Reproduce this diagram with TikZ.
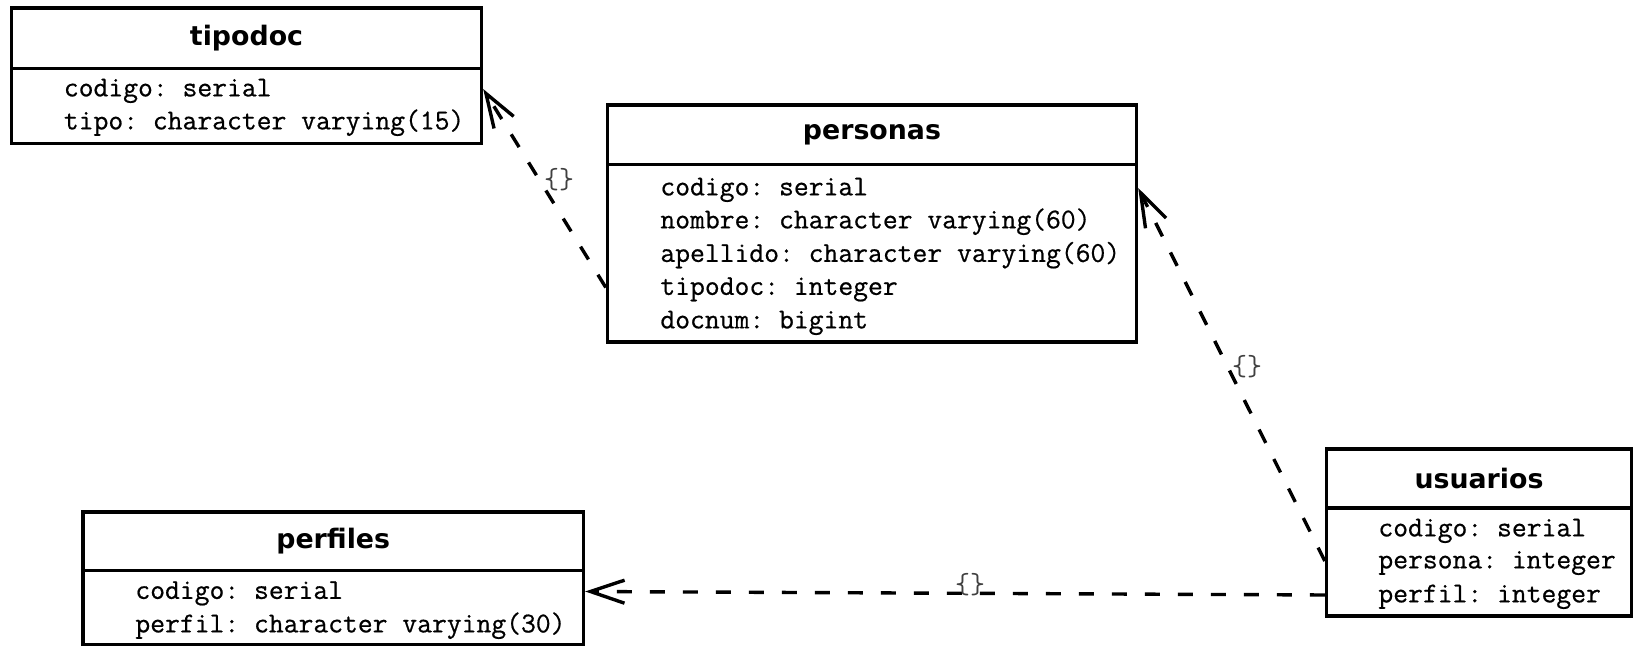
\documentclass[tikz,border=0pt]{standalone}
\usepackage{fontspec}
\newfontfamily\hdrfont{DejaVu Sans}
\setmonofont{Latin Modern Mono}[FakeBold=0.6]
\newfontfamily\lblfont{Latin Modern Mono}
\frenchspacing
\usetikzlibrary{arrows.meta,fit}
\begin{document}
\begin{tikzpicture}[x=0.5pt,y=-0.5pt,
  tbl/.style={draw=black, line width=1.7pt, inner sep=0pt, rectangle},
  ttl/.style={font=\hdrfont\bfseries\fontsize{13.4}{16}\selectfont, inner sep=0pt},
  field/.style={anchor=west, inner sep=0pt, font=\ttfamily\frenchspacing\fontsize{14.4}{17}\selectfont, text height=0.95em, text depth=0.21em},
  rel/.style={line width=1.7pt, dash pattern=on 7.5pt off 9pt, -{Straight Barb[length=17pt,width=11.5pt]}},
  lbl/.style={font=\lblfont\fontsize{14.5}{16}\selectfont, text=black!75, inner sep=0pt}]
\fill[white] (0,0) rectangle (1633,646);
\useasboundingbox (0,0) rectangle (1633,646);

% tipodoc
\node[tbl, fit={(11.5,8) (481.5,68.5)}] (tipodoc-h) {};
\node[tbl, fit={(11.5,68.5) (481.5,143.5)}] (tipodoc) {};
\node[ttl] (tipodoc-t) at (tipodoc-h.center) {tipodoc};
\node[field] (tipodoc-codigo) at (63.5,89) {codigo: serial};
\node[field] (tipodoc-tipo) at (63.5,122) {tipo: character varying(15)};

% personas
\node[tbl, fit={(607.5,105) (1136.5,164.5)}] (personas-h) {};
\node[tbl, fit={(607.5,164.5) (1136.5,342)}] (personas) {};
\node[ttl] (personas-t) at (personas-h.center) {personas};
\node[field] (personas-codigo) at (660,188) {codigo: serial};
\node[field] (personas-nombre) at (660,221) {nombre: character varying(60)};
\node[field] (personas-apellido) at (660,254.5) {apellido: character varying(60)};
\node[field] (personas-tipodoc) at (660,287.5) {tipodoc: integer};
\node[field] (personas-docnum) at (660,321) {docnum: bigint};

% usuarios
\node[tbl, fit={(1326.5,449) (1631.5,508)}] (usuarios-h) {};
\node[tbl, fit={(1326.5,508) (1631.5,616)}] (usuarios) {};
\node[ttl] (usuarios-t) at (usuarios-h.center) {usuarios};
\node[field] (usuarios-codigo) at (1378,529) {codigo: serial};
\node[field] (usuarios-persona) at (1378,561) {persona: integer};
\node[field] (usuarios-perfil) at (1378,595) {perfil: integer};

% perfiles
\node[tbl, fit={(83,512) (583.5,570.5)}] (perfiles-h) {};
\node[tbl, fit={(83,570.5) (583.5,644.5)}] (perfiles) {};
\node[ttl] (perfiles-t) at (perfiles-h.center) {perfiles};
\node[field] (perfiles-codigo) at (135,591.5) {codigo: serial};
\node[field] (perfiles-perfil) at (135,625) {perfil: character varying(30)};

% relations
\draw[rel] (personas.west |- personas-tipodoc) -- (tipodoc.east |- tipodoc-codigo);
\draw[rel] (usuarios.west |- usuarios-persona) -- (personas.east |- personas-codigo);
\draw[rel] (usuarios.west |- usuarios-perfil) -- (perfiles.east |- perfiles-codigo);

% labels
\node[lbl] (l1) at (559,179.5) {\{\}};
\node[lbl] (l2) at (1247,367) {\{\}};
\node[lbl] (l3) at (970,585) {\{\}};
\end{tikzpicture}
\end{document}
